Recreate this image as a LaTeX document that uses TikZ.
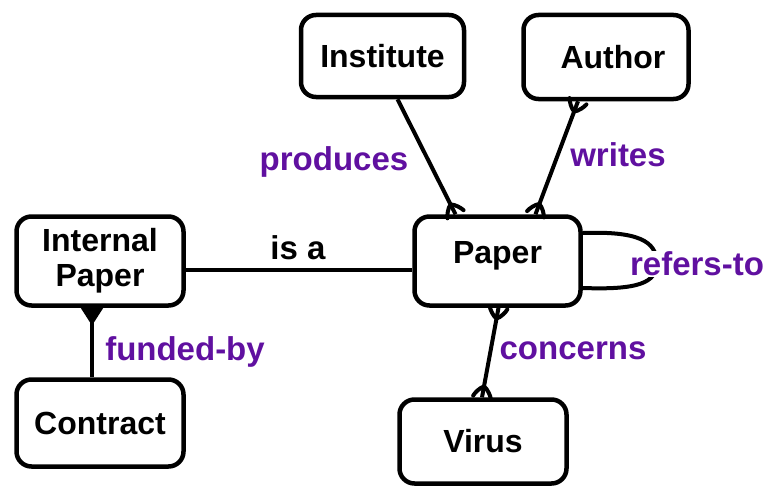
\documentclass[tikz,border=0pt]{standalone}
\usepackage{fontspec}
\setmainfont{Liberation Sans}
\usetikzlibrary{calc}
\definecolor{rel}{RGB}{96,16,160}
\pgfdeclarearrow{
  name=Crow,
  setup code={
    \pgfarrowssettipend{0pt}
    \pgfarrowssetlineend{0pt}
    \pgfarrowssetbackend{-11pt}
    \pgfarrowssetvisualbackend{-11pt}
    \pgfarrowshullpoint{0pt}{9pt}
    \pgfarrowshullpoint{0pt}{-9pt}
    \pgfarrowshullpoint{-11pt}{0pt}
  },
  drawing code={
    \pgfsetdash{}{0pt}
    \pgfsetroundjoin
    \pgfsetroundcap
    \pgfpathmoveto{\pgfqpoint{0pt}{9pt}}
    \pgfpathcurveto{\pgfqpoint{-3pt}{8pt}}{\pgfqpoint{-9pt}{4pt}}{\pgfqpoint{-11pt}{0pt}}
    \pgfpathcurveto{\pgfqpoint{-9pt}{-4pt}}{\pgfqpoint{-3pt}{-8pt}}{\pgfqpoint{0pt}{-9pt}}
    \pgfusepathqstroke
  }
}
\pgfdeclarearrow{
  name=CrowF,
  setup code={
    \pgfarrowssettipend{0pt}
    \pgfarrowssetlineend{0pt}
    \pgfarrowssetbackend{-14pt}
    \pgfarrowssetvisualbackend{-14pt}
    \pgfarrowshullpoint{0pt}{9pt}
    \pgfarrowshullpoint{0pt}{-9pt}
    \pgfarrowshullpoint{-14pt}{0pt}
  },
  drawing code={
    \pgfsetdash{}{0pt}
    \pgfsetmiterjoin
    \pgfpathmoveto{\pgfqpoint{0pt}{9pt}}
    \pgfpathlineto{\pgfqpoint{-14pt}{0pt}}
    \pgfpathlineto{\pgfqpoint{0pt}{-9pt}}
    \pgfpathclose
    \pgfusepathqfillstroke
  }
}
\tikzset{
  entity/.style={draw, line width=4.5pt, rounded corners=15pt, inner sep=0pt,
    font=\fontsize{32}{35}\selectfont\bfseries, align=center},
  conn/.style={line width=4pt},
  rlabel/.style={text=rel, font=\fontsize{33}{36}\selectfont\bfseries, inner sep=1pt},
  blabel/.style={text=black, font=\fontsize{33}{36}\selectfont\bfseries, inner sep=1pt}
}
\begin{document}
\begin{tikzpicture}[x=1pt,y=-1pt]
\useasboundingbox (0,0) rectangle (770,487);
% entities
\node[entity, minimum width=163pt, minimum height=82pt] (inst) at (382.5,56) {Institute};
\node[entity, minimum width=165pt, minimum height=84pt] (auth) at (606,57) {\hspace*{14pt}Author};
\node[entity, minimum width=166pt, minimum height=89pt] (paper) at (497.5,261) {Paper\\[-17pt]\mbox{}};
\node[entity, minimum width=167pt, minimum height=89pt] (ipaper) at (100,261) {Internal\\Paper};
\node[entity, minimum width=167pt, minimum height=87pt] (contract) at (100,423) {Contract};
\node[entity, minimum width=167pt, minimum height=84pt] (virus) at (483,441.5) {Virus};
% relationships
\draw[conn, -Crow] ($(inst.south)+(15,0)$) -- ($(paper.north)+(-42,0)$);
\draw[conn, Crow-Crow] ($(auth.south)+(-28,0)$) -- ($(paper.north)+(38,0)$);
\draw[conn, Crow-Crow] ($(paper.south)+(1,0)$) -- ($(virus.north)+(-1,0)$);
\draw[conn, CrowF-] ($(ipaper.south)+(-8,0)$) -- ($(contract.north)+(-8,0)$);
\draw[conn] ($(ipaper.east)+(0,9)$) -- ($(paper.west)+(0,9)$);
\coordinate (la) at ($(paper.east)+(0,-28)$);
\coordinate (lb) at ($(paper.east)+(0,27)$);
\coordinate (lr) at ($(paper.east)+(74,2)$);
\draw[conn] (la) .. controls +(55,-2) and +(0,-22) .. (lr) .. controls +(0,20) and +(55,2) .. (lb);
% labels
\node[blabel] (isa) at (298,248) {is a};
\node[rlabel] (lprod) at (334,162) {produces};
\node[rlabel] (lwrites) at (618,155) {writes};
\node[rlabel, fill=white] (lrefers) at (697,264) {refers-to};
\node[rlabel] (lconc) at (573,351) {concerns};
\node[rlabel] (lfund) at (185,352) {funded-by};
\end{tikzpicture}
\end{document}
